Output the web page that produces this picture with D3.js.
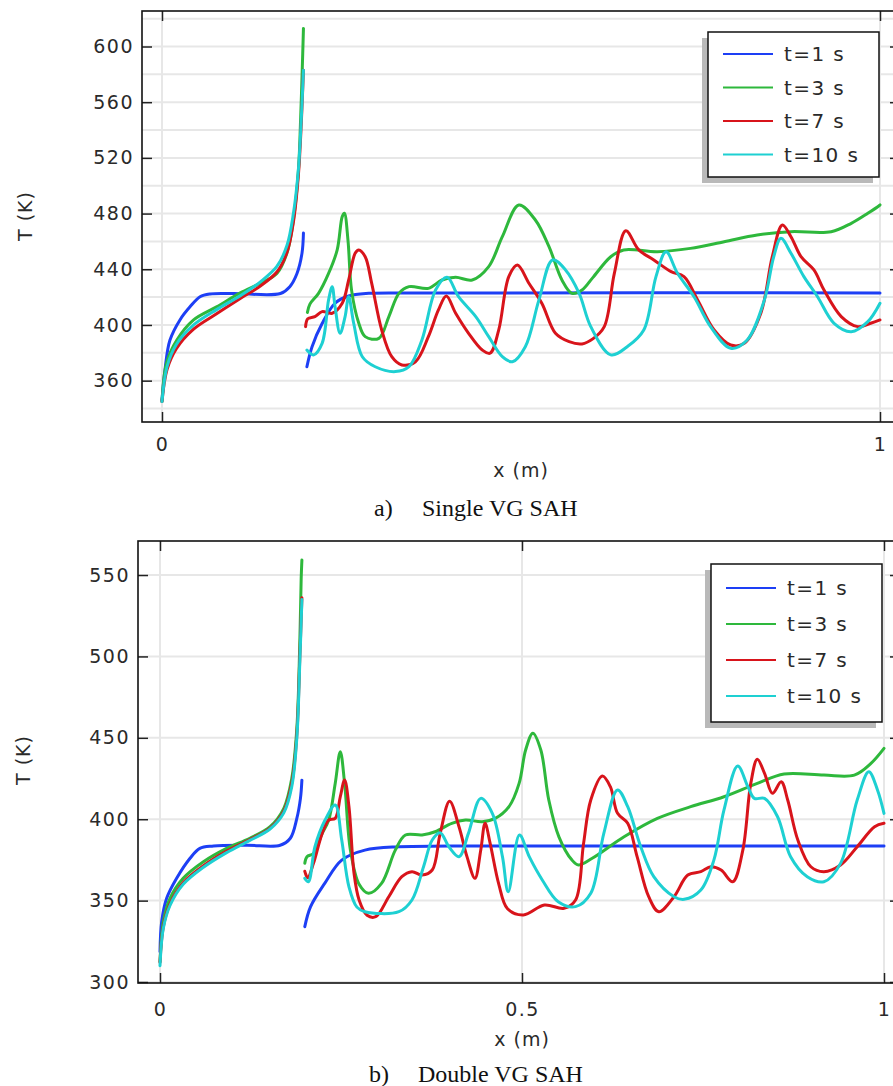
<!DOCTYPE html>
<html>
<head>
<meta charset="utf-8">
<script src="https://cdn.jsdelivr.net/npm/d3@7"></script>
<style>
  body { margin: 0; background: #fff; }
  svg { display: block; }
  .tick text { font-family: "DejaVu Sans", sans-serif; font-size: 19px; fill: #2a2a2a; letter-spacing: 1.5px; }
  .tick line { stroke: #222; stroke-width: 1.5; }
</style>
</head>
<body>
<svg id="fig" width="893" height="1086"></svg>
<script>
// Legend entries and line colours
const seriesNames = ["t=1 s", "t=3 s", "t=7 s", "t=10 s"];
const seriesColors = ["#1d3ff5", "#2eb83c", "#d8141b", "#1ed0d2"];

// a) Single VG SAH — temperature T (K) along x (m); each series has two segments
const singleT1 = [
  [[0,346],[0.0042,368],[0.011,389],[0.025,403.6],[0.039,413],[0.053,420.3],[0.067,422.3],[0.1,422.6],[0.165,422.6],[0.178,427.5],[0.188,437],[0.195,451.6],[0.197,466]],
  [[0.2018,370],[0.209,384.4],[0.223,401],[0.241,415.6],[0.26,420.8],[0.288,422.7],[0.35,423],[1,423]]
];
const singleT3 = [
  [[0,345],[0.0065,373],[0.0205,389],[0.044,403.6],[0.076,413],[0.109,423],[0.137,430],[0.16,437],[0.174,451.6],[0.183,475.4],[0.19,511],[0.193,547],[0.196,595],[0.197,613]],
  [[0.2025,409],[0.206,415],[0.218,422.7],[0.232,437],[0.244,453.9],[0.251,477.8],[0.254,480.2],[0.259,461],[0.264,425],[0.274,401.4],[0.283,391.6],[0.302,390.4],[0.316,406],[0.33,422.7],[0.344,427.5],[0.371,426.3],[0.39,432.3],[0.409,434.2],[0.432,432.3],[0.455,441.9],[0.474,463.4],[0.497,486.2],[0.52,475.4],[0.539,456.2],[0.557,432.3],[0.571,422.7],[0.585,425.1],[0.6,434],[0.625,449],[0.643,453.9],[0.69,452.6],[0.736,455],[0.783,459.8],[0.829,464.6],[0.876,467],[0.932,467],[0.96,473],[0.983,480.2],[1,486.2]]
];
const singleT7 = [
  [[0,345],[0.007,368],[0.02,383],[0.044,397],[0.076,408],[0.109,419],[0.137,428],[0.16,438],[0.174,452],[0.183,474],[0.19,508],[0.194,545],[0.197,583]],
  [[0.2,398.8],[0.203,404.5],[0.213,406],[0.223,409.6],[0.237,408.4],[0.251,415.6],[0.26,432.3],[0.269,451.5],[0.274,453.9],[0.283,449],[0.292,430],[0.306,396.4],[0.32,377.2],[0.334,371.3],[0.353,373.6],[0.371,391.6],[0.385,410.8],[0.396,420.8],[0.409,408.4],[0.427,394],[0.446,382],[0.457,379.7],[0.469,396.4],[0.483,434.7],[0.495,443],[0.511,430],[0.529,415.6],[0.548,394],[0.567,388],[0.585,386.4],[0.6,390],[0.616,398.8],[0.63,437],[0.646,467.7],[0.664,453.9],[0.685,446.7],[0.709,438.3],[0.727,434.7],[0.746,418],[0.769,396.4],[0.792,385.6],[0.811,386.8],[0.834,408.4],[0.85,449],[0.864,471.8],[0.876,463.4],[0.89,449],[0.908,439.5],[0.922,425.1],[0.946,406],[0.969,398.8],[0.987,401.2],[1,403.6]]
];
const singleT10 = [
  [[0,345],[0.007,370],[0.02,386],[0.044,400],[0.076,411],[0.109,421],[0.137,431],[0.16,442],[0.174,457],[0.183,480],[0.19,512],[0.194,548],[0.197,583]],
  [[0.2018,382],[0.211,378.5],[0.223,386.8],[0.232,418],[0.237,427.5],[0.241,413.2],[0.248,394],[0.255,406],[0.26,420.3],[0.267,401.2],[0.279,377.2],[0.297,370],[0.325,366.5],[0.344,370],[0.362,389.2],[0.381,425.1],[0.397,434.2],[0.413,420.3],[0.437,406],[0.455,391.6],[0.474,377.2],[0.488,373.6],[0.506,384.4],[0.525,418],[0.544,446.7],[0.562,439.5],[0.581,422.7],[0.597,399],[0.625,378.5],[0.648,384.4],[0.671,396.4],[0.688,434.7],[0.702,452.6],[0.718,437.1],[0.741,420.3],[0.764,398.8],[0.792,383.3],[0.815,389.2],[0.839,418],[0.852,449],[0.862,462.2],[0.876,451.5],[0.894,434.7],[0.913,420.3],[0.936,401.2],[0.96,395.2],[0.983,402.4],[1,415.6]]
];

// b) Double VG SAH
const doubleT1 = [
  [[0,318.6],[0.0023,337],[0.0092,351.4],[0.023,363.7],[0.0415,376],[0.055,382.1],[0.074,383.5],[0.12,384],[0.166,384],[0.18,388.3],[0.189,400.5],[0.194,412.8],[0.196,424]],
  [[0.2,334],[0.208,346.3],[0.2275,360.6],[0.251,374.9],[0.283,381],[0.33,383.1],[0.4,383.5],[1,383.5]]
];
const doubleT3 = [
  [[0,312.5],[0.0046,337],[0.0138,351.4],[0.032,363.7],[0.06,373.9],[0.092,382.1],[0.124,388.3],[0.152,395.4],[0.171,406.7],[0.182,425.1],[0.189,455.8],[0.193,507],[0.195,548],[0.196,559.2]],
  [[0.2,373],[0.203,377],[0.212,379],[0.224,391.3],[0.233,399.5],[0.242,422],[0.249,441.5],[0.255,422],[0.263,381],[0.275,360],[0.288,354.5],[0.306,360.6],[0.325,381],[0.339,390.3],[0.362,390.3],[0.38,392.3],[0.403,397.5],[0.422,399.5],[0.445,398.5],[0.463,400.5],[0.482,407.7],[0.496,422],[0.505,442.5],[0.515,452.8],[0.526,442.5],[0.537,411.8],[0.551,389.2],[0.569,374.9],[0.578,371.9],[0.597,376],[0.641,389.2],[0.687,400.5],[0.733,407.7],[0.779,413.8],[0.825,422],[0.862,427.8],[0.917,427.1],[0.959,427.1],[0.982,434.3],[1,443.5]]
];
const doubleT7 = [
  [[0,312],[0.0046,334],[0.0138,348],[0.032,361],[0.06,371.5],[0.092,380.5],[0.124,387.5],[0.152,394.5],[0.171,405],[0.182,422],[0.189,452],[0.193,498],[0.196,536]],
  [[0.2,368],[0.204,364],[0.212,372.9],[0.224,391.3],[0.233,399.5],[0.242,400.5],[0.249,413.8],[0.255,424.1],[0.261,407.7],[0.268,366.8],[0.275,350.4],[0.286,341],[0.298,340.1],[0.316,352.4],[0.334,364.7],[0.348,367.8],[0.362,365.7],[0.376,368.8],[0.387,391.3],[0.4,411],[0.413,395.4],[0.424,377],[0.435,363.7],[0.443,381],[0.449,397.5],[0.456,385.2],[0.468,360],[0.48,345],[0.502,341.2],[0.531,347.3],[0.558,345.3],[0.574,350.4],[0.585,385],[0.595,411.8],[0.611,426.5],[0.622,420],[0.632,403.6],[0.646,397.5],[0.659,377],[0.675,352.4],[0.689,343.2],[0.71,352.4],[0.729,365.7],[0.747,367.8],[0.761,370.8],[0.775,368.8],[0.791,361.6],[0.805,381],[0.816,422],[0.825,436.8],[0.835,428.2],[0.846,415.9],[0.858,423],[0.867,411.8],[0.881,387.2],[0.899,370.8],[0.917,367.8],[0.94,371.9],[0.963,383.1],[0.987,395.4],[1,397.5]]
];
const doubleT10 = [
  [[0,310],[0.0046,333],[0.0138,347],[0.032,360],[0.06,370.5],[0.092,379.5],[0.124,387],[0.152,394],[0.171,404],[0.182,420],[0.189,450],[0.193,495],[0.196,535]],
  [[0.2,363.7],[0.205,361.6],[0.214,383.1],[0.228,399.5],[0.242,408.7],[0.251,387.2],[0.261,358.5],[0.272,346],[0.283,343.2],[0.33,343.2],[0.348,350.4],[0.364,370.8],[0.376,387.2],[0.387,391.7],[0.399,383.1],[0.413,377],[0.426,391.3],[0.443,412.8],[0.459,403.6],[0.473,377],[0.481,355.5],[0.4965,390.3],[0.51,377],[0.528,362.7],[0.55,349.3],[0.574,346.3],[0.595,354.5],[0.613,391.3],[0.632,418],[0.646,407.7],[0.664,383.1],[0.682,364.7],[0.71,352.4],[0.724,350.8],[0.747,356.5],[0.765,374.9],[0.779,405.7],[0.798,432.7],[0.812,420],[0.821,412.8],[0.835,412.8],[0.853,401.5],[0.871,377],[0.894,364.7],[0.917,361.6],[0.94,372.9],[0.963,411.8],[0.979,429.2],[0.991,418],[1,403.6]]
];

// Axis ticks and grid values
const singleYTicks = [360, 400, 440, 480, 520, 560, 600];
const singleYGrid = [340, 360, 380, 400, 420, 440, 460, 480, 500, 520, 540, 560, 580, 600, 620];
const singleXTicks = [0, 1];
const doubleYTicks = [300, 350, 400, 450, 500, 550];
const doubleYGrid = [300, 350, 400, 450, 500, 550];
const doubleXTicks = [0, 0.5, 1];

const svg = d3.select("#fig");

function drawPanel(p) {
  const g = svg.append("g");
  const x = d3.scaleLinear().domain([0, 1]).range([p.x0, p.x1]);
  const y = d3.scaleLinear().domain(p.yDomain).range([p.bottom, p.top]);
  const clipId = "clip-" + p.id;

  g.append("clipPath").attr("id", clipId)
    .append("rect")
    .attr("x", p.left).attr("y", p.top)
    .attr("width", p.right - p.left).attr("height", p.bottom - p.top);

  // grid
  const grid = g.append("g").attr("clip-path", `url(#${clipId})`);
  grid.selectAll("line.hg").data(p.yGrid).join("line")
    .attr("x1", p.left).attr("x2", p.right)
    .attr("y1", d => y(d)).attr("y2", d => y(d))
    .attr("stroke", "#e7e7e7").attr("stroke-width", 2);
  grid.selectAll("line.vg").data(p.xTicks).join("line")
    .attr("x1", d => x(d)).attr("x2", d => x(d))
    .attr("y1", p.top).attr("y2", p.bottom)
    .attr("stroke", "#e7e7e7").attr("stroke-width", 2);

  // curves
  const line = d3.line()
    .x(d => x(d[0])).y(d => y(d[1]))
    .curve(d3.curveCatmullRom.alpha(0.5));
  const curves = g.append("g").attr("clip-path", `url(#${clipId})`);
  p.series.forEach((segments, i) => {
    segments.forEach(seg => {
      curves.append("path")
        .attr("d", line(seg))
        .attr("fill", "none")
        .attr("stroke", seriesColors[i])
        .attr("stroke-width", 3)
        .attr("stroke-linejoin", "round")
        .attr("stroke-linecap", "round");
    });
  });

  // axes (ticks pointing inward)
  const fmt = d3.format("~g");
  g.append("g").attr("transform", `translate(${p.left},0)`)
    .call(d3.axisLeft(y).tickValues(p.yTicks).tickSizeInner(-10).tickSizeOuter(0).tickPadding(p.yPad).tickFormat(fmt))
    .call(a => a.select(".domain").remove());
  g.append("g").attr("transform", `translate(${p.right},0)`)
    .call(d3.axisRight(y).tickValues(p.yTicks).tickSizeInner(-6).tickSizeOuter(0).tickFormat(""))
    .call(a => a.select(".domain").remove());
  g.append("g").attr("transform", `translate(0,${p.bottom})`)
    .call(d3.axisBottom(x).tickValues(p.xTicks).tickSizeInner(-10).tickSizeOuter(0).tickPadding(p.xPad).tickFormat(fmt))
    .call(a => a.select(".domain").remove());
  g.append("g").attr("transform", `translate(0,${p.top})`)
    .call(d3.axisTop(x).tickValues(p.xTicks).tickSizeInner(-10).tickSizeOuter(0).tickFormat(""))
    .call(a => a.select(".domain").remove());

  // frame
  g.append("rect")
    .attr("x", p.left).attr("y", p.top)
    .attr("width", p.right - p.left).attr("height", p.bottom - p.top)
    .attr("fill", "none").attr("stroke", "#111").attr("stroke-width", 1.6);

  // axis titles
  g.append("text")
    .attr("x", p.xTitle[0]).attr("y", p.xTitle[1])
    .attr("text-anchor", "middle")
    .attr("font-family", "DejaVu Sans, sans-serif").attr("font-size", 19)
    .attr("letter-spacing", 1).attr("fill", "#2a2a2a")
    .text("x (m)");
  g.append("text")
    .attr("transform", `translate(${p.yTitle[0]},${p.yTitle[1]}) rotate(-90)`)
    .attr("text-anchor", "middle")
    .attr("font-family", "DejaVu Sans, sans-serif").attr("font-size", 19)
    .attr("letter-spacing", 1).attr("fill", "#2a2a2a")
    .text("T (K)");

  // legend
  const L = p.legend;
  const lg = g.append("g").attr("transform", `translate(${L.x},${L.y})`);
  lg.append("rect").attr("x", -6).attr("y", 6).attr("width", L.w).attr("height", L.h)
    .attr("fill", "#b9b9b9");
  lg.append("rect").attr("x", 0).attr("y", 0).attr("width", L.w).attr("height", L.h)
    .attr("fill", "#fff").attr("stroke", "#111").attr("stroke-width", 1.5);
  seriesNames.forEach((name, i) => {
    const cy = L.row0 + i * L.rowStep;
    lg.append("line").attr("x1", 15).attr("x2", 65).attr("y1", cy).attr("y2", cy)
      .attr("stroke", seriesColors[i]).attr("stroke-width", 2.2);
    lg.append("text").attr("x", 76).attr("y", cy + 7)
      .attr("font-family", "DejaVu Sans, sans-serif").attr("font-size", 20)
      .attr("letter-spacing", 1.4).attr("fill", "#2a2a2a")
      .text(name);
  });

  // caption
  const cap = svg.append("g").attr("font-family", "Liberation Serif, Times New Roman, serif")
    .attr("font-size", 24).attr("fill", "#111");
  cap.append("text").attr("x", p.caption[0]).attr("y", p.caption[2]).text(p.captionTag);
  cap.append("text").attr("x", p.caption[1]).attr("y", p.caption[2]).text(p.captionText);
}

drawPanel({
  id: "single",
  left: 142, top: 11, right: 896, bottom: 422,
  x0: 162, x1: 880,
  yDomain: [330.3, 625.5],
  yTicks: singleYTicks, yGrid: singleYGrid, xTicks: singleXTicks,
  yPad: 8, xPad: 16,
  series: [singleT1, singleT3, singleT7, singleT10],
  xTitle: [521, 477], yTitle: [32, 216],
  legend: { x: 708, y: 32, w: 171, h: 145, row0: 22, rowStep: 33.5 },
  caption: [374, 422, 516], captionTag: "a)", captionText: "Single VG SAH"
});

drawPanel({
  id: "double",
  left: 138, top: 541, right: 896, bottom: 983,
  x0: 160, x1: 884,
  yDomain: [299.4, 570.9],
  yTicks: doubleYTicks, yGrid: doubleYGrid, xTicks: doubleXTicks,
  yPad: 8, xPad: 20,
  series: [doubleT1, doubleT3, doubleT7, doubleT10],
  xTitle: [522, 1046], yTitle: [30, 760],
  legend: { x: 711, y: 564, w: 171, h: 158, row0: 24, rowStep: 36 },
  caption: [369, 418, 1082], captionTag: "b)", captionText: "Double VG SAH"
});
</script>
</body>
</html>
